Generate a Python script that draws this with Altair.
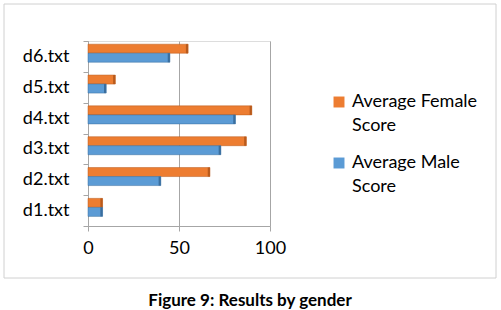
import altair as alt
import pandas as pd

# Average scores per document, split by gender
documents = ["d1.txt", "d2.txt", "d3.txt", "d4.txt", "d5.txt", "d6.txt"]
male_scores = [8, 40, 73, 81, 10, 45]
female_scores = [8, 67, 87, 90, 15, 55]

series_names = ["Average Female Score", "Average Male Score"]
series_colors = ["#ED7D31", "#5B9BD5"]
series_edges = ["#B85A1C", "#3A6E9E"]

rows = []
for doc, m, f in zip(documents, male_scores, female_scores):
    rows.append({"doc": doc, "series": series_names[0], "score": f})
    rows.append({"doc": doc, "series": series_names[1], "score": m})
df = pd.DataFrame(rows)

FONT = "Lato"
GRID = "#A6A6A6"

y_enc = alt.Y(
    "doc:N",
    sort=list(reversed(documents)),
    scale=alt.Scale(paddingInner=0, paddingOuter=0),
    axis=alt.Axis(
        title=None, tickBand="extent", tickSize=5, tickColor=GRID,
        domainColor=GRID, labelFontSize=18, labelColor="#000000",
        labelPadding=14, labelFont=FONT,
    ),
)
y_off = alt.YOffset(
    "series:N",
    sort=series_names,
    scale=alt.Scale(paddingInner=0, paddingOuter=0.71, align=0.25),
)

base = alt.Chart(df)

bars = base.mark_bar(strokeWidth=0.5).encode(
    x=alt.X(
        "score:Q",
        scale=alt.Scale(domain=[0, 100]),
        axis=alt.Axis(
            values=[0, 50, 100], title=None, grid=True, gridColor=GRID,
            domainColor=GRID, tickColor=GRID, tickSize=5, labelFlush=False,
            labelFontSize=18, labelColor="#000000", labelPadding=8, labelFont=FONT,
        ),
    ),
    y=y_enc,
    yOffset=y_off,
    color=alt.Color(
        "series:N",
        sort=series_names,
        scale=alt.Scale(domain=series_names, range=series_colors),
        legend=alt.Legend(
            title=None, orient="none", legendX=242, legendY=52,
            symbolType="square", symbolSize=120, symbolStrokeWidth=0,
            labelFontSize=18, labelFont=FONT, labelColor="#000000",
            labelLimit=220, rowPadding=19, padding=0,
            labelExpr="[replace(datum.label, ' Score', ''), 'Score']",
        ),
    ),
    stroke=alt.Stroke(
        "series:N",
        scale=alt.Scale(domain=series_names, range=series_edges),
        legend=None,
    ),
)

# darker shaded end face on each bar
caps = base.transform_calculate(
    cap_start="datum.score - 1.2"
).mark_bar().encode(
    x="cap_start:Q",
    x2="score:Q",
    y=y_enc,
    yOffset=y_off,
    color=alt.Color(
        "series:N",
        scale=alt.Scale(domain=series_names, range=series_edges),
        legend=None,
    ),
)

# light grey frame around the whole figure area
frame = alt.Chart(pd.DataFrame({"k": [0]})).mark_rect(
    fill=None, stroke="#D0D0D0", strokeWidth=1, clip=False
).encode(
    x=alt.value(-84), x2=alt.value(408), y=alt.value(-37), y2=alt.value(237)
)

chart = (
    alt.layer(frame, bars, caps)
    .resolve_scale(color="independent")
    .properties(
        width=182,
        height=185,
        autosize=alt.AutoSizeParams(type="none"),
        padding={"left": 88, "top": 41, "right": 231, "bottom": 84},
        title=alt.TitleParams(
            "Figure 9: Results by gender", orient="bottom", anchor="middle",
            dx=71, offset=14, fontSize=17, font=FONT, fontWeight="bold",
            color="#000000",
        ),
    )
    .configure_view(stroke=None)
    .configure(background="white", style={"guide-label": {"lineHeight": 24}})
)

chart.save("out.html", embed_options={"renderer": "svg", "actions": False})
